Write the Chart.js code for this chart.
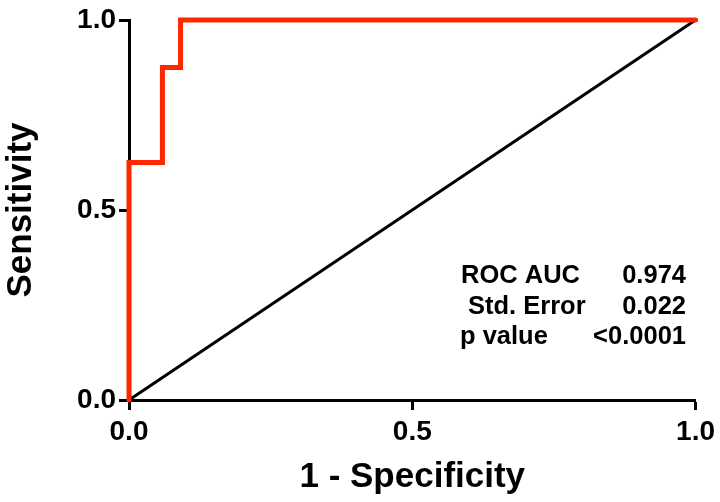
<!DOCTYPE html>
<html>
<head>
<meta charset="UTF-8" />
<script src="https://cdn.jsdelivr.net/npm/chart.js@4"></script>
<style>
  html, body { margin: 0; padding: 0; background: #fff; }
  #wrap { width: 720px; height: 502px; }
</style>
</head>
<body>
<div id="wrap"><canvas id="roc"></canvas></div>
<script>
// ROC curve points (1 - specificity, sensitivity)
const fpr = [0, 0, 0.059, 0.059, 0.091, 0.091, 1];
const tpr = [0, 0.625, 0.625, 0.875, 0.875, 1, 1];
// chance line
const refX = [0, 1];
const refY = [0, 1];
const axisTicks = [0, 0.5, 1];

const statLabels = ['ROC AUC', 'Std. Error', 'p value'];
const statValues = ['0.974', '0.022', '<0.0001'];

const FONT = '"Liberation Sans", Arial, Helvetica, sans-serif';

function pts(xs, ys) {
  return xs.map((x, i) => ({ x, y: ys[i] }));
}

// stats table in the lower right of the plot
const statsBox = {
  id: 'statsBox',
  afterDraw(c) {
    const ctx = c.ctx;
    const labelX = [461, 468, 460];
    ctx.save();
    ctx.fillStyle = '#000';
    ctx.font = 'bold 25.5px ' + FONT;
    ctx.textBaseline = 'alphabetic';
    statLabels.forEach((t, i) => {
      const y = 283 + i * 30.5;
      ctx.textAlign = 'left';
      ctx.fillText(t, labelX[i], y);
      ctx.textAlign = 'right';
      ctx.fillText(statValues[i], 686, y);
    });
    ctx.restore();
  },
};

function axis(title) {
  return {
    type: 'linear',
    min: 0,
    max: 1,
    afterBuildTicks: (s) => { s.ticks = axisTicks.map((v) => ({ value: v })); },
    border: { display: true, color: '#000', width: 3 },
    grid: {
      display: true,
      drawOnChartArea: false,
      drawTicks: true,
      tickLength: 10,
      tickWidth: 3,
      tickColor: '#000',
    },
    ticks: {
      color: '#000',
      font: { family: FONT, size: 28, weight: 'bold' },
      callback: (v) => Number(v).toFixed(1),
      maxRotation: 0,
    },
    title: {
      display: true,
      text: title,
      color: '#000',
      font: { family: FONT, size: 35, weight: 'bold' },
    },
  };
}

const xAxis = axis('1 - Specificity');
xAxis.ticks.padding = 5;
xAxis.title.padding = { top: 8, bottom: 4 };
xAxis.afterFit = (s) => { s.height = 102; };

const yAxis = axis('Sensitivity');
yAxis.ticks.padding = 3;
yAxis.title.padding = { top: 0, bottom: 2 };
yAxis.afterFit = (s) => { s.width = 129; };

new Chart(document.getElementById('roc'), {
  type: 'line',
  data: {
    datasets: [
      {
        label: 'ROC',
        data: pts(fpr, tpr),
        borderColor: '#ff2600',
        borderWidth: 5,
        pointRadius: 0,
        tension: 0,
        clip: false,
        borderJoinStyle: 'miter',
        borderCapStyle: 'round',
      },
      {
        label: 'Reference',
        data: pts(refX, refY),
        borderColor: '#000',
        borderWidth: 3,
        pointRadius: 0,
        tension: 0,
        clip: false,
      },
    ],
  },
  options: {
    responsive: true,
    maintainAspectRatio: false,
    animation: false,
    parsing: false,
    layout: { padding: { top: 20, right: 20, left: 0, bottom: 0 } },
    scales: { x: xAxis, y: yAxis },
    plugins: {
      legend: { display: false },
      tooltip: { enabled: false },
    },
  },
  plugins: [statsBox],
});
</script>
</body>
</html>
